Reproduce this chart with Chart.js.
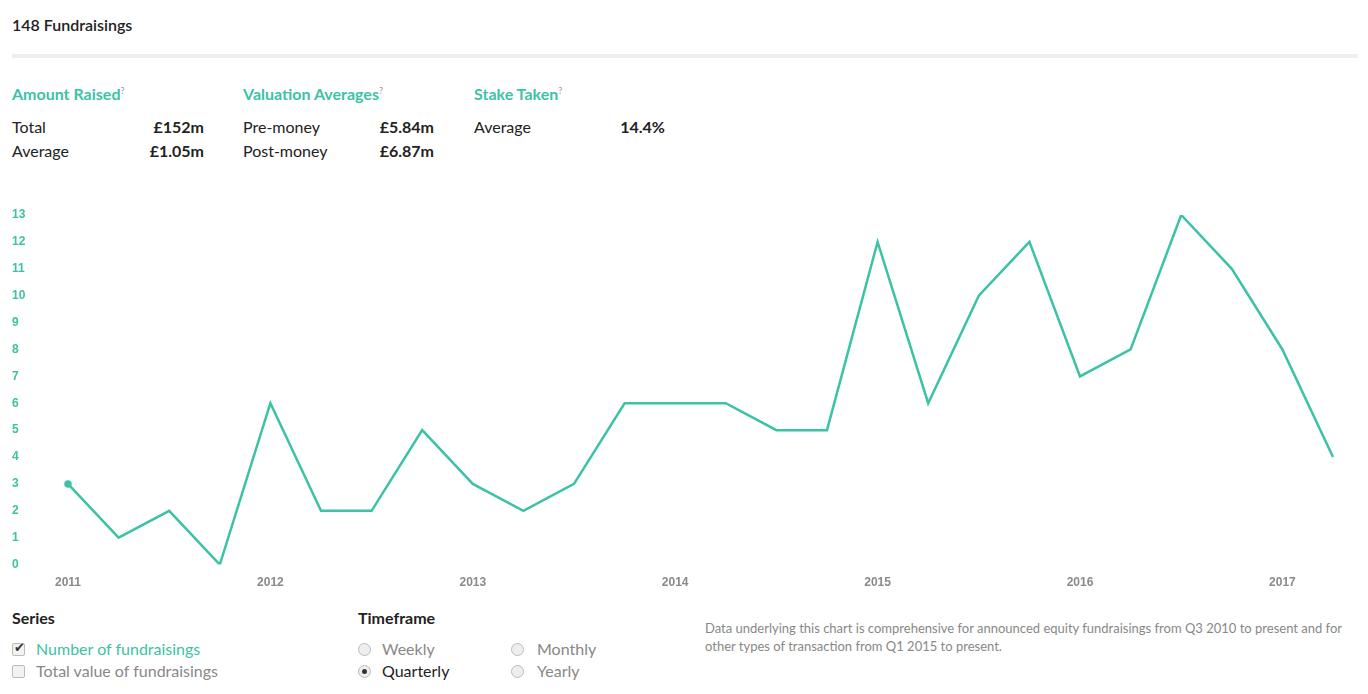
<!DOCTYPE html>
<html>
<head>
<meta charset="utf-8">
<script src="https://cdn.jsdelivr.net/npm/chart.js@4/dist/chart.umd.min.js"></script>
<style>
  html, body { margin: 0; padding: 0; background: #fff; }
  body { width: 1368px; height: 694px; position: relative; overflow: hidden; font-family: Lato, "Open Sans", sans-serif; color: #222; }
  .abs { position: absolute; }
  .title { left: 12px; top: 15px; font-size: 16px; font-weight: 600; }
  .rule { left: 12px; top: 54px; width: 1346px; height: 4px; background: #eeeeee; }
  .head { font-size: 16px; font-weight: 700; color: #3cc2a5; }
  .head sup { font-size: 9px; color: #999; font-weight: 400; }
  .row { font-size: 16px; }
  .val { font-size: 16px; font-weight: 700; text-align: right; }
  .sub { font-size: 16px; font-weight: 700; }
  .opt { font-size: 16px; color: #888; }
  .box { width: 11px; height: 11px; border: 1px solid #bbb; border-radius: 2px; background: #f2f2f2; }
  .radio { width: 11px; height: 11px; border: 1px solid #bbb; border-radius: 50%; background: #eee; }
  .note { left: 705px; top: 619px; width: 650px; font-size: 13px; line-height: 18px; color: #888; }
  #wrap { left: 0px; top: 201px; width: 1360px; height: 400px; }
</style>
</head>
<body>
<div class="abs title">148 Fundraisings</div>
<div class="abs rule"></div>

<div class="abs head" style="left:12px;top:84px;">Amount Raised<sup>?</sup></div>
<div class="abs row" style="left:12px;top:117px;">Total</div>
<div class="abs val" style="left:104px;top:117px;width:100px;">£152m</div>
<div class="abs row" style="left:12px;top:141px;">Average</div>
<div class="abs val" style="left:104px;top:141px;width:100px;">£1.05m</div>

<div class="abs head" style="left:243px;top:84px;">Valuation Averages<sup>?</sup></div>
<div class="abs row" style="left:243px;top:117px;">Pre-money</div>
<div class="abs val" style="left:334px;top:117px;width:100px;">£5.84m</div>
<div class="abs row" style="left:243px;top:141px;">Post-money</div>
<div class="abs val" style="left:334px;top:141px;width:100px;">£6.87m</div>

<div class="abs head" style="left:474px;top:84px;">Stake Taken<sup>?</sup></div>
<div class="abs row" style="left:474px;top:117px;">Average</div>
<div class="abs val" style="left:565px;top:117px;width:100px;">14.4%</div>

<div class="abs" id="wrap"><canvas id="chart"></canvas></div>

<div class="abs sub" style="left:12px;top:608px;">Series</div>
<div class="abs box" style="left:12px;top:643px;"></div>
<div class="abs" style="left:14px;top:639px;font-size:13px;color:#333;">&#10004;</div>
<div class="abs opt" style="left:36px;top:639px;color:#3cc2a5;">Number of fundraisings</div>
<div class="abs box" style="left:12px;top:665px;"></div>
<div class="abs opt" style="left:36px;top:661px;">Total value of fundraisings</div>

<div class="abs sub" style="left:358px;top:608px;">Timeframe</div>
<div class="abs radio" style="left:358px;top:643px;"></div>
<div class="abs opt" style="left:382px;top:639px;">Weekly</div>
<div class="abs radio" style="left:358px;top:665px;"></div>
<div class="abs" style="left:362px;top:669px;width:5px;height:5px;border-radius:50%;background:#333;"></div>
<div class="abs opt" style="left:382px;top:661px;color:#222;">Quarterly</div>
<div class="abs radio" style="left:511px;top:643px;"></div>
<div class="abs opt" style="left:537px;top:639px;">Monthly</div>
<div class="abs radio" style="left:511px;top:665px;"></div>
<div class="abs opt" style="left:537px;top:661px;">Yearly</div>

<div class="abs note">Data underlying this chart is comprehensive for announced equity fundraisings from Q3 2010 to present and for other types of transaction from Q1 2015 to present.</div>

<script>
// quarterly buckets, Q1 2011 .. Q2 2017
const quarters = [
    '2011', '', '', '',
    '2012', '', '', '',
    '2013', '', '', '',
    '2014', '', '', '',
    '2015', '', '', '',
    '2016', '', '', '',
    '2017', ''
];
const fundraisings = [
    3, 1, 2, 0,
    6, 2, 2, 5,
    3, 2, 3, 6,
    6, 6, 5, 5,
    12, 6, 10, 12,
    7, 8, 13, 11,
    8, 4
];
const yTicks = [0, 1, 2, 3, 4, 5, 6, 7, 8, 9, 10, 11, 12, 13];

const teal = '#3cc2a5';

document.addEventListener('DOMContentLoaded', function() {
    const ctx = document.getElementById('chart').getContext('2d');
    new Chart(ctx, {
        type: 'line',
        data: {
            labels: quarters,
            datasets: [{
                label: 'Number of fundraisings',
                data: fundraisings,
                borderColor: teal,
                backgroundColor: teal,
                borderWidth: 2.5,
                tension: 0,
                fill: false,
                pointRadius: fundraisings.map((v, i) => i === 0 ? 2.5 : 0),
                pointHoverRadius: 0
            }]
        },
        options: {
            responsive: true,
            maintainAspectRatio: false,
            animation: false,
            layout: { padding: { top: 14, right: 27, left: 12, bottom: 0 } },
            plugins: { legend: { display: false }, tooltip: { enabled: false } },
            scales: {
                x: {
                    offset: false,
                    grid: { display: false, drawTicks: false },
                    border: { display: false },
                    ticks: {
                        autoSkip: false,
                        maxRotation: 0,
                        padding: 11,
                        color: '#8a8a8a',
                        font: { family: 'Liberation Sans, Arial, sans-serif', size: 12, weight: 'bold' }
                    }
                },
                y: {
                    min: 0,
                    max: 13,
                    afterBuildTicks: axis => { axis.ticks = yTicks.map(v => ({ value: v })); },
                    afterFit: axis => { axis.width = 56; },
                    grid: { display: false, drawTicks: false },
                    border: { display: false },
                    ticks: {
                        crossAlign: 'far',
                        padding: 0,
                        color: teal,
                        font: { family: 'Liberation Sans, Arial, sans-serif', size: 12, weight: 'bold' }
                    }
                }
            }
        }
    });
});
</script>
</body>
</html>
